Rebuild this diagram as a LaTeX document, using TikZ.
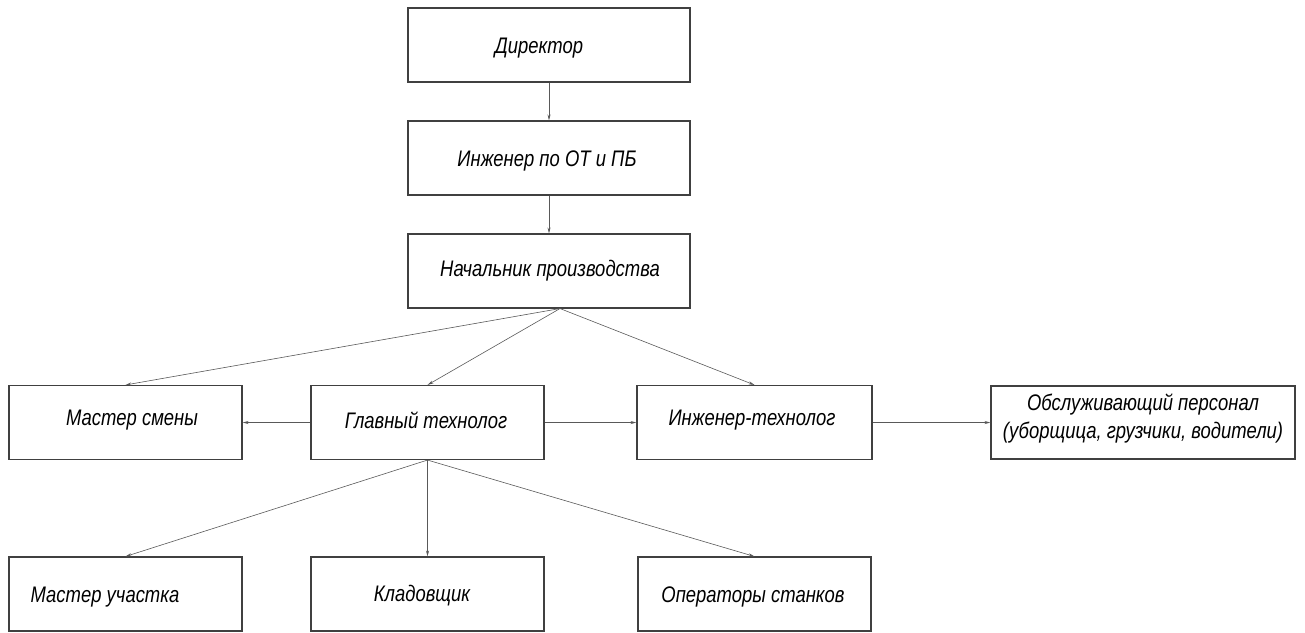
\documentclass[tikz,border=0pt]{standalone}
\usepackage{fontspec}
\setmainfont{Liberation Sans}[FakeStretch=0.82]
\usetikzlibrary{arrows.meta,calc}
\begin{document}
\begin{tikzpicture}[x=1pt,y=-1pt,
  box/.style={draw=black!75,line width=1.1pt,rectangle,minimum width=233pt,minimum height=74pt,inner sep=0pt},
  wide/.style={minimum width=282pt},
  lbl/.style={inner sep=0pt,font=\fontsize{22.5}{27}\selectfont\itshape},
  conn/.style={draw=black!65,line width=0.6pt,-{Stealth[length=6pt,width=3pt]}}]
\useasboundingbox (0,0) rectangle (1305,632);
% top column
\node[box,wide] (dir) at (549,45) {};
\node[lbl] (dirt) at (539,48) {Директор};
\node[box,wide] (eng) at (549,158) {};
\node[lbl] (engt) at (547,161) {Инженер по ОТ и ПБ};
\node[box,wide] (nach) at (549,271) {};
\node[lbl] (nacht) at (550,271) {Начальник производства};
% row 2
\node[box] (ms) at (125.5,422.5) {};
\node[lbl] (mst) at (132,420) {Мастер смены};
\node[box] (gt) at (427.5,422.5) {};
\node[lbl] (gtt) at (426,420) {Главный технолог};
\node[box,minimum width=235pt] (it) at (754.5,422.5) {};
\node[lbl] (itt) at (752,420) {Инженер-технолог};
\node[box,minimum width=304pt,minimum height=73pt] (ob) at (1143,422.5) {};
\node[lbl,align=center,font=\fontsize{22.5}{28}\selectfont\itshape] (obt) at (1143,419) {Обслуживающий персонал\\(уборщица, грузчики, водители)};
% row 3
\node[box] (mu) at (125.5,594) {};
\node[lbl] (mut) at (105,597) {Мастер участка};
\node[box] (kl) at (427.5,594) {};
\node[lbl] (klt) at (422,596) {Кладовщик};
\node[box] (op) at (754.5,594) {};
\node[lbl] (opt) at (753,597) {Операторы станков};
% connectors
\coordinate (nb) at ($(nach.south)+(11,0)$);
\draw[conn] (dir.south) -- (eng.north);
\draw[conn] (eng.south) -- (nach.north);
\draw[conn] (nb) -- (ms.north);
\draw[conn] (nb) -- (gt.north);
\draw[conn] (nb) -- (it.north);
\draw[conn] (gt.west) -- (ms.east);
\draw[conn] (gt.east) -- (it.west);
\draw[conn] (it.east) -- (ob.west);
\draw[conn] (gt.south) -- (mu.north);
\draw[conn] (gt.south) -- (kl.north);
\draw[conn] (gt.south) -- (op.north);
\end{tikzpicture}
\end{document}
